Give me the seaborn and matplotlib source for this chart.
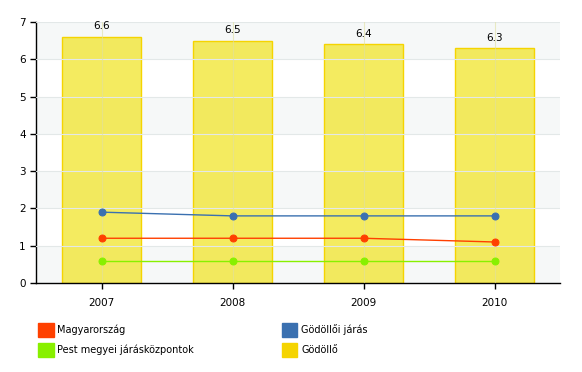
import numpy as np
import pandas as pd
import matplotlib
matplotlib.use('Agg')
import matplotlib.pyplot as plt
import seaborn as sns
from matplotlib.patches import Patch

years = ['2007', '2008', '2009', '2010']
magyarorszag = [1.2, 1.2, 1.2, 1.1]
godolloi_jaras = [1.9, 1.8, 1.8, 1.8]
pest_kozpontok = [0.6, 0.6, 0.6, 0.6]
godollo = [6.6, 6.5, 6.4, 6.3]

sns.set_style('white')
plt.rcParams['font.family'] = ['DejaVu Sans']
plt.rcParams['text.color'] = 'black'

fig = plt.figure(figsize=(5.82, 3.72), dpi=100)
ax = fig.add_axes([36 / 582, 89 / 372, 524 / 582, 261 / 372])

# alternating background bands
for lo in range(0, 7, 2):
    ax.axhspan(lo, lo + 1, color='#f6f8f8', zorder=0, lw=0)
for y in range(1, 8):
    ax.axhline(y, color='#e3e8e8', lw=0.8, zorder=0.5)

df_bar = pd.DataFrame({'year': years, 'value': godollo})
sns.barplot(data=df_bar, x='year', y='value', ax=ax, width=0.6,
            color='#f5e93a', edgecolor='#f5d400', linewidth=1, zorder=2)
for p in ax.containers[0]:
    p.set_edgecolor('#f5d400')
    p.set_facecolor((0.95, 0.90, 0.20, 0.78))

for i in range(len(years)):
    ax.axvline(i, color='#e0e0a0', lw=0.8, alpha=0.6, zorder=2.5)

series = [(godolloi_jaras, '#3a70b0'), (magyarorszag, '#ff4000'), (pest_kozpontok, '#88f000')]
for vals, col in series:
    d = pd.DataFrame({'year': years, 'value': vals})
    sns.pointplot(data=d, x='year', y='value', ax=ax, color=col,
                  marker='o', linewidth=1, markersize=5)
for ln in ax.lines:
    ln.set_zorder(3)

for i, v in enumerate(godollo):
    ax.text(i, v + 0.15, f'{v:.1f}', ha='center', va='bottom', fontsize=7.5, color='black')

ax.set_xlim(-0.5, 3.5)
ax.set_ylim(0, 7)
ax.set_yticks(range(0, 8))
ax.set_xlabel('')
ax.set_ylabel('')
ax.tick_params(axis='both', direction='out', length=4, width=1, labelsize=7.5,
               left=True, bottom=True, color='black', labelcolor='black')
ax.tick_params(axis='x', pad=7)
for s in ['top', 'right']:
    ax.spines[s].set_visible(False)
for s in ['left', 'bottom']:
    ax.spines[s].set_color('black')
    ax.spines[s].set_linewidth(1)

handles = [Patch(color='#ff4000'), Patch(color='#88f000'),
           Patch(color='#3a70b0'), Patch(color='#f5d400')]
labels = ['Magyarország', 'Pest megyei járásközpontok', 'Gödöllői járás', 'Gödöllő']
fig.legend(handles, labels, ncol=2, loc='upper left', bbox_to_anchor=(38 / 582, 1 - 323 / 372),
           frameon=False, fontsize=7, handlelength=1.6, handleheight=1.9,
           columnspacing=9.0, labelspacing=0.55, handletextpad=0.4,
           borderaxespad=0, borderpad=0.0)

fig.savefig('out.png', dpi=100)
